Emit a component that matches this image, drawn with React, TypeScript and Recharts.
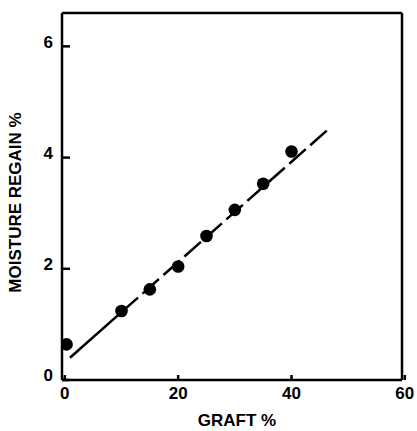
import { ComposedChart, Line, ReferenceLine, Scatter, XAxis, YAxis } from "recharts";

const graft = [0.3, 10, 15, 20, 25, 30, 35, 40];
const regain = [0.64, 1.24, 1.63, 2.04, 2.59, 3.06, 3.53, 4.11];

// fitted line: solid lower stretch, then long dashes
const fitSolidX = [0.9, 10];
const fitSolidY = [0.4, 1.22];
const fitDashX = [10, 46.5];
const fitDashY = [1.22, 4.51];

const xTicks = [0, 20, 40, 60];
const yTicks = [0, 2, 4, 6];
const xDomain: [number, number] = [-0.5, 59.5];
const yDomain: [number, number] = [0, 6.6];

const points = graft.map((x, i) => ({ x, y: regain[i] }));
const fitSolid = fitSolidX.map((x, i) => ({ x, y: fitSolidY[i] }));
const fitDash = fitDashX.map((x, i) => ({ x, y: fitDashY[i] }));

const FONT = "'Liberation Sans', Arial, sans-serif";
const INK = "#000";

function BottomTick({ x, y, payload }: any) {
  return (
    <g>
      <line x1={x} y1={y} x2={x} y2={y - 5} stroke={INK} strokeWidth={2.5} />
      <text x={x} y={y + 19} textAnchor="middle" fontFamily={FONT} fontWeight={700} fontSize={17} fill={INK}>
        {payload.value}
      </text>
    </g>
  );
}

function LeftTick({ x, y, payload }: any) {
  return (
    <g>
      <line x1={x} y1={y} x2={x + 8} y2={y} stroke={INK} strokeWidth={2.5} />
      <text x={x - 9} y={y - 3} textAnchor="end" dominantBaseline="middle" fontFamily={FONT} fontWeight={700} fontSize={17} fill={INK}>
        {payload.value}
      </text>
    </g>
  );
}

function XTitle({ viewBox }: any) {
  const { x, y, width } = viewBox;
  return (
    <text x={x + width / 2 + 5} y={y + 46} textAnchor="middle" fontFamily={FONT} fontWeight={700} fontSize={17} fill={INK}>
      GRAFT %
    </text>
  );
}

function YTitle({ viewBox }: any) {
  const { x, y, height } = viewBox;
  const cx = x + 17;
  const cy = y + height / 2 + 6;
  return (
    <text x={cx} y={cy} transform={`rotate(-90 ${cx} ${cy})`} textAnchor="middle" dominantBaseline="middle" fontFamily={FONT} fontWeight={700} fontSize={17} fill={INK}>
      MOISTURE REGAIN %
    </text>
  );
}

export default function App() {
  return (
    <div style={{ position: "absolute", left: 0, top: 0, background: "#fff" }}>
      <ComposedChart width={417} height={431} margin={{ top: 13, right: 15, bottom: 0, left: 0 }}>
        <XAxis
          type="number"
          dataKey="x"
          domain={xDomain}
          ticks={xTicks}
          height={51}
          tickSize={0}
          tickMargin={0}
          tickLine={false}
          axisLine={{ stroke: INK, strokeWidth: 2.5 }}
          tick={<BottomTick />}
          interval={0}
          allowDataOverflow
          label={<XTitle />}
        />
        <YAxis
          type="number"
          dataKey="y"
          domain={yDomain}
          ticks={yTicks}
          width={62}
          tickSize={0}
          tickMargin={0}
          tickLine={false}
          axisLine={{ stroke: INK, strokeWidth: 2.5 }}
          tick={<LeftTick />}
          interval={0}
          allowDataOverflow
          label={<YTitle />}
        />
        {/* frame: top and right edges */}
        <ReferenceLine y={yDomain[1]} stroke={INK} strokeWidth={2.5} />
        <ReferenceLine x={xDomain[1]} stroke={INK} strokeWidth={2.5} />
        <Line data={fitSolid} dataKey="y" type="linear" stroke={INK} strokeWidth={2.5} dot={false} activeDot={false} isAnimationActive={false} />
        <Line data={fitDash} dataKey="y" type="linear" stroke={INK} strokeWidth={2.5} strokeDasharray="22 6" dot={false} activeDot={false} isAnimationActive={false} />
        <Scatter
          data={points}
          dataKey="y"
          fill={INK}
          isAnimationActive={false}
          shape={(p: any) => <circle cx={p.cx} cy={p.cy} r={6.3} fill={INK} />}
        />
      </ComposedChart>
    </div>
  );
}
